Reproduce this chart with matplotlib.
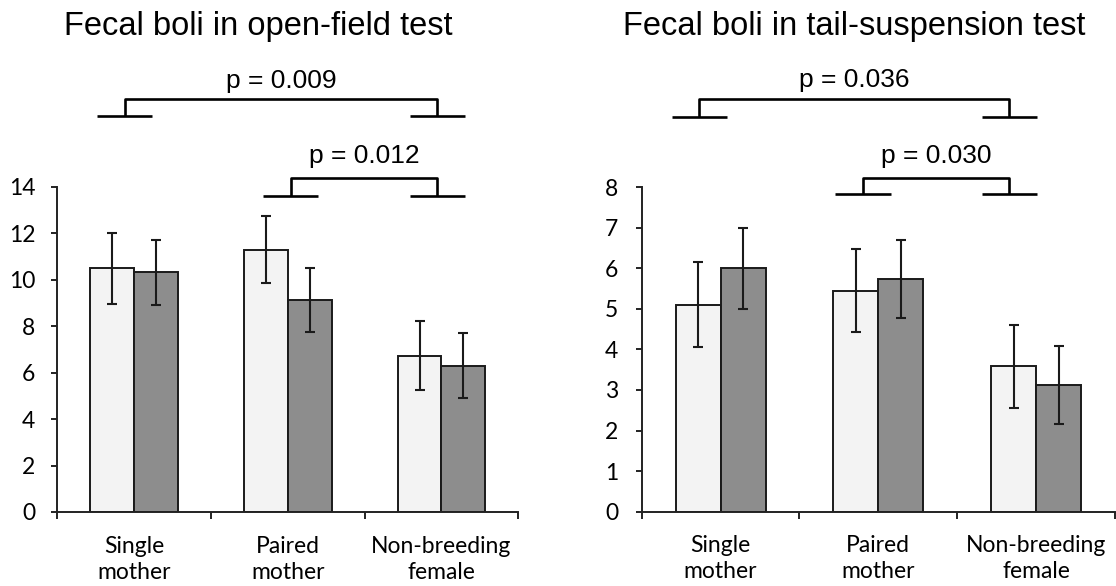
import matplotlib.pyplot as plt
import numpy as np

groups = ['Single\nmother', 'Paired\nmother', 'Non-breeding\nfemale']

open_field_light = [10.5, 11.3, 6.74]
open_field_light_err = [1.52, 1.45, 1.49]
open_field_dark = [10.32, 9.12, 6.3]
open_field_dark_err = [1.4, 1.37, 1.4]

tail_light = [5.1, 5.45, 3.58]
tail_light_err = [1.05, 1.03, 1.02]
tail_dark = [6.0, 5.74, 3.12]
tail_dark_err = [1.0, 0.96, 0.96]

# (left leg, right leg, p label) for the significance brackets
open_field_pvals = [(-0.061, 1.971, 'p = 0.009'), (1.018, 1.971, 'p = 0.012')]
tail_pvals = [(-0.135, 1.830, 'p = 0.036'), (0.904, 1.830, 'p = 0.030')]

light_color = '#f3f3f3'
dark_color = '#8d8d8d'
width = 0.285


def bracket(ax, x1, x2, y_top, y_foot, half, label, text_y):
    kw = dict(color='black', lw=1.9, clip_on=False, solid_capstyle='butt')
    ax.plot([x1 - half, x1 + half], [y_foot, y_foot], **kw)
    ax.plot([x2 - half, x2 + half], [y_foot, y_foot], **kw)
    ax.plot([x1, x1, x2, x2], [y_foot, y_top, y_top, y_foot], **kw)
    ax.text((x1 + x2) / 2, text_y, label, ha='center', va='baseline',
            fontsize=19, family='Liberation Sans', clip_on=False)


def panel(ax, light, light_err, dark, dark_err, ymax, ystep, pad):
    x = np.arange(len(groups))
    ax.bar(x - width / 2, light, width, color=light_color, edgecolor='#1a1a1a', lw=1.4, zorder=2)
    ax.bar(x + width / 2, dark, width, color=dark_color, edgecolor='#1a1a1a', lw=1.4, zorder=2)
    ax.errorbar(x - width / 2, light, yerr=light_err, fmt='none', ecolor='#1a1a1a',
                elinewidth=1.5, capsize=3.6, capthick=1.5, zorder=3)
    ax.errorbar(x + width / 2, dark, yerr=dark_err, fmt='none', ecolor='#1a1a1a',
                elinewidth=1.5, capsize=3.6, capthick=1.5, zorder=3)
    ax.set_xlim(-0.5, len(groups) - 0.5)
    ax.set_ylim(0, ymax)
    ax.set_yticks(np.arange(0, ymax + ystep, ystep))
    for s in ['top', 'right']:
        ax.spines[s].set_visible(False)
    for s in ['left', 'bottom']:
        ax.spines[s].set_linewidth(1.4)
        ax.spines[s].set_color('#222222')
    ax.set_xticks(np.arange(len(groups) + 1) - 0.5)
    ax.set_xticklabels([])
    ax.set_xticks(x, minor=True)
    ax.set_xticklabels(groups, minor=True, fontsize=16.5, family='Lato', linespacing=1.3)
    ax.tick_params(axis='x', which='major', direction='out', length=5, width=1.4, color='#222222')
    ax.tick_params(axis='x', which='minor', length=0, pad=17)
    ax.tick_params(axis='y', direction='out', length=4, width=1.4, color='#222222', pad=pad)
    for t in ax.get_yticklabels():
        t.set_family('Lato')
        t.set_fontsize(16.5)


fig = plt.figure(figsize=(11.16, 5.86), dpi=100)

ax1 = fig.add_axes([0.0515, 0.1263, 0.4129, 0.5546])
panel(ax1, open_field_light, open_field_light_err, open_field_dark, open_field_dark_err, 14, 2, 12)
bracket(ax1, *open_field_pvals[0][:2], 17.78, 17.06, 0.179, open_field_pvals[0][2], 18.27)
bracket(ax1, *open_field_pvals[1][:2], 14.38, 13.63, 0.179, open_field_pvals[1][2], 15.02)

ax2 = fig.add_axes([0.575, 0.127, 0.4241, 0.5534])
panel(ax2, tail_light, tail_light_err, tail_dark, tail_dark_err, 8, 1, 13)
bracket(ax2, *tail_pvals[0][:2], 10.17, 9.74, 0.176, tail_pvals[0][2], 10.47)
bracket(ax2, *tail_pvals[1][:2], 8.22, 7.84, 0.176, tail_pvals[1][2], 8.59)

fig.text(0.2312, 0.9403, 'Fecal boli in open-field test', ha='center', va='baseline',
         fontsize=23.5, family='Liberation Sans')
fig.text(0.7652, 0.9403, 'Fecal boli in tail-suspension test', ha='center', va='baseline',
         fontsize=23.5, family='Liberation Sans')

fig.savefig('out.png', dpi=100)
